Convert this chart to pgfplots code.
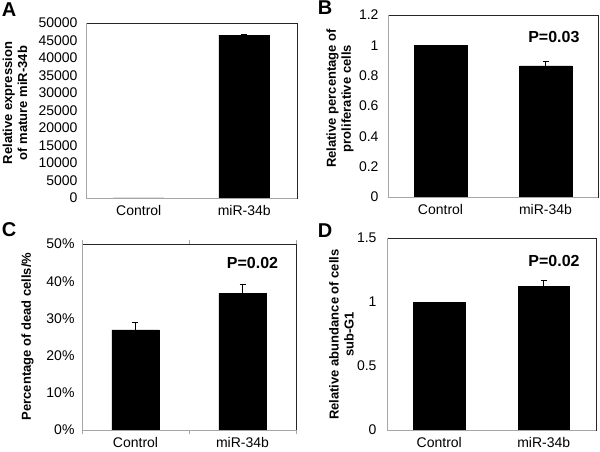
\documentclass[border=0pt]{standalone}
\usepackage{fontspec}
\setmainfont{Liberation Sans}
\usepackage{pgfplots}
\pgfplotsset{compat=1.18}

\pgfplotsset{
  panel/.style={
    scale only axis, anchor=north west, ybar, clip=false,
    xmin=-0.5, xmax=1.5, ymin=0,
    xtick={0,1}, xticklabels={Control,miR-34b},
    major tick length=0pt,
    axis line style={draw=black!85},
    tick label style={font=\fontsize{14}{16}\selectfont},
    xticklabel style={yshift=-4pt},
    ylabel style={font=\bfseries\fontsize{13}{15}\selectfont, align=center, anchor=center},
    /pgf/number format/assume math mode=true,
    /pgf/number format/set thousands separator={},
    scaled y ticks=false,
    yticklabel style={/pgf/number format/fixed},
    error bars/y dir=plus, error bars/y explicit,
    error bars/error bar style={black, line width=0.6pt},
    error bars/error mark options={rotate=90, mark size=3pt, black, line width=0.6pt},
  },
  greyaxes/.style={
    after end axis/.code={
      \draw[gray!70, line width=0.8pt] (rel axis cs:0,1) -- (rel axis cs:0,0) -- (rel axis cs:1,0);
    }
  },
  barstyle/.style={fill=black, draw=black},
}

\begin{document}
\begin{tikzpicture}
\useasboundingbox (0pt,0pt) rectangle (600pt,-452pt);

% A
\begin{axis}[panel, greyaxes, at={(86pt,-23pt)}, width=211pt, height=175pt,
  bar width=0.48, ymax=50000,
  ytick={0,5000,10000,15000,20000,25000,30000,35000,40000,45000,50000},
  yticklabel style={xshift=-5pt},
  ylabel={Relative expression\\of mature miR-34b},
  ylabel style={at={(axis description cs:-0.336,0.543)}}]
\addplot[barstyle] coordinates {(0,0) +- (0,0) (1,46500) +- (0,200)};
\end{axis}
\node[font=\bfseries\fontsize{20}{22}\selectfont] at (9pt,-10pt) {A};

% B
\begin{axis}[panel, greyaxes, at={(388pt,-15pt)}, width=210pt, height=182pt,
  bar width=0.5, ymax=1.2,
  ytick={0,0.2,0.4,0.6,0.8,1,1.2},
  yticklabel style={xshift=-6pt},
  ylabel={Relative percentage of\\proliferative cells},
  ylabel style={at={(axis description cs:-0.229,0.541)}}]
\addplot[barstyle] coordinates {(0,1) +- (0,0) (1,0.865) +- (0,0.032)};
\node[font=\bfseries\fontsize{16}{18}\selectfont] at (rel axis cs:0.79,0.879) {P=0.03};
\end{axis}
\node[font=\bfseries\fontsize{20}{22}\selectfont] at (325pt,-8pt) {B};

% C
\begin{axis}[panel, greyaxes, at={(82pt,-244pt)}, width=214pt, height=186pt,
  bar width=0.44, ymax=0.5,
  ytick={0,0.1,0.2,0.3,0.4,0.5},
  yticklabels={0\%,10\%,20\%,30\%,40\%,50\%},
  yticklabel style={xshift=-4pt},
  ylabel={Percentage of dead cells/\%},
  ylabel style={at={(axis description cs:-0.255,0.503)}},
  extra x ticks={-0.5,0.5,1.5}, extra x tick labels={},
  extra x tick style={major tick length=4pt, tick align=outside, tick style={gray!70}}]
\addplot[barstyle] coordinates {(0,0.269) +- (0,0.02) (1,0.367) +- (0,0.026)};
\node[font=\bfseries\fontsize{16}{18}\selectfont] at (rel axis cs:0.797,0.898) {P=0.02};
\end{axis}
\node[font=\bfseries\fontsize{20}{22}\selectfont] at (9pt,-230pt) {C};

% D
\begin{axis}[panel, greyaxes, at={(387pt,-238pt)}, width=209pt, height=192pt,
  bar width=0.49, ymax=1.5,
  ytick={0,0.5,1,1.5},
  yticklabel style={xshift=-7pt},
  ylabel={Relative abundance of cells\\sub-G1},
  ylabel style={at={(axis description cs:-0.218,0.497)}}]
\addplot[barstyle] coordinates {(0,1) +- (0,0) (1,1.125) +- (0,0.045)};
\node[font=\bfseries\fontsize{16}{18}\selectfont] at (rel axis cs:0.799,0.880) {P=0.02};
\end{axis}
\node[font=\bfseries\fontsize{20}{22}\selectfont] at (325pt,-231pt) {D};
\end{tikzpicture}
\end{document}
